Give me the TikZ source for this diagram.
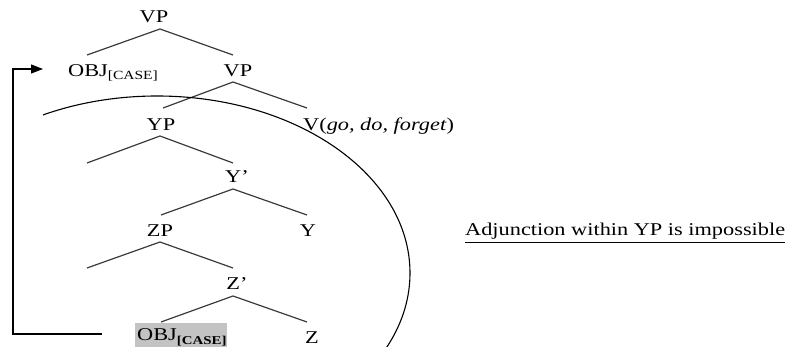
\documentclass[tikz,border=0pt]{standalone}
\usepackage{fontspec}
\setmainfont{Liberation Serif}
\usepackage{graphicx}
\usetikzlibrary{arrows.meta}
\newcommand\hs[1]{\scalebox{1.24}[1]{#1}}
\definecolor{boxgray}{HTML}{C3C3C3}
\definecolor{treeline}{HTML}{3A3A3A}
\begin{document}
\begin{tikzpicture}[x=1pt,y=-1pt,
  lab/.style={inner sep=0pt, font=\fontsize{18pt}{20pt}\selectfont},
  branch/.style={draw=treeline, line width=1.2pt},
  movearrow/.style={draw=black, line width=1.1pt, -{Triangle[length=12pt,width=9pt]}},
  arcline/.style={draw=black, line width=1.1pt}]
\useasboundingbox (0,0) rectangle (795,347);
% labels
\node[lab,anchor=base] (vp1) at (154,23) {\hs{VP}};
\node[lab,anchor=base west] (obj1) at (68,77) {\hs{OBJ\raisebox{-3pt}{\fontsize{12.5pt}{13pt}\selectfont[CASE]}}};
\node[lab,anchor=base] (vp2) at (238,77) {\hs{VP}};
\node[lab,anchor=base] (yp) at (161,131) {\hs{YP}};
\node[lab,anchor=base west] (v) at (303,131) {\hs{V(\textit{go, do, forget})}};
\node[lab,anchor=base] (ybar) at (237,183) {\hs{Y’}};
\node[lab,anchor=base] (zp) at (160,237) {\hs{ZP}};
\node[lab,anchor=base] (y) at (308,237) {\hs{Y}};
\node[lab,anchor=base] (zbar) at (237,290) {\hs{Z’}};
\fill[boxgray] (135,323) rectangle (227,350);
\node[lab,anchor=base west] (obj2) at (137,340) {\hs{OBJ\raisebox{-4pt}{\fontsize{12pt}{13pt}\selectfont\bfseries[CASE]}}};
\node[lab,anchor=base] (z) at (312,343) {\hs{Z}};
\node[lab,anchor=base west] (adj) at (465,236) {\hs{Adjunction within YP is impossible}};
\draw[line width=0.9pt] ([yshift=-6pt]adj.base west) -- ([yshift=-6pt]adj.base east);
% branch points
\coordinate (a1) at (160,29);  \coordinate (l1) at (87,55);  \coordinate (r1) at (233,55);
\coordinate (a2) at (233,82);  \coordinate (l2) at (163,108); \coordinate (r2) at (307,108);
\coordinate (a3) at (160,136); \coordinate (l3) at (87,163); \coordinate (r3) at (233,163);
\coordinate (a4) at (233,189); \coordinate (l4) at (161,215); \coordinate (r4) at (307,215);
\coordinate (a5) at (160,242); \coordinate (l5) at (87,268); \coordinate (r5) at (233,268);
\coordinate (a6) at (233,296); \coordinate (l6) at (161,322); \coordinate (r6) at (307,322);
\foreach \i in {1,...,6} {\draw[branch] (l\i) -- (a\i) -- (r\i);}
% boundary arc
\begin{scope}
\clip (43,0) rectangle (795,347);
\draw[arcline] (157,273) ellipse [x radius=253, y radius=177];
\end{scope}
% movement arrow
\coordinate (src) at (102,334);
\coordinate (dst) at (43,69);
\draw[movearrow] (src) -- (13,334) |- (dst);
\end{tikzpicture}
\end{document}
